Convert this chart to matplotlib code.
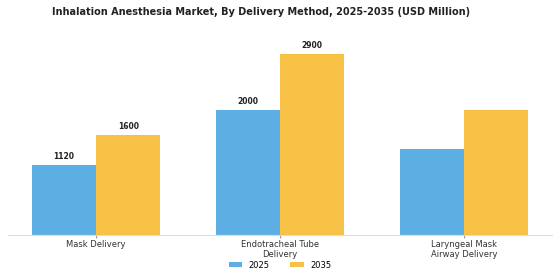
import matplotlib.pyplot as plt
import numpy as np

# data
categories = ["Mask Delivery", "Endotracheal Tube\nDelivery", "Laryngeal Mask\nAirway Delivery"]
values_2025 = [1120, 2000, 1380]
values_2035 = [1600, 2900, 2000]
labels_2025 = ["1120", "2000", ""]
labels_2035 = ["1600", "2900", ""]

blue = "#5DAFE3"
yellow = "#F6C144"

fig = plt.figure(figsize=(5.6, 2.8), dpi=100)
ax = fig.add_axes([0.014, 0.161, 0.972, 0.714])

x = np.arange(len(categories))
w = 0.35
b1 = ax.bar(x - w / 2, values_2025, w, color=blue, label="2025")
b2 = ax.bar(x + w / 2, values_2035, w, color=yellow, label="2035")

for bars, labs in [(b1, labels_2025), (b2, labels_2035)]:
    for bar, lab in zip(bars, labs):
        if lab:
            ax.text(bar.get_x() + bar.get_width() / 2, bar.get_height() + 60, lab,
                    ha="center", va="bottom", fontsize=5.5, fontweight="bold", color="#222222")

ax.set_xlim(-0.48, 2.48)
ax.set_ylim(0, 3200)
ax.set_xticks(x)
ax.set_xticklabels(categories, fontsize=6, color="#333333", linespacing=1.1)
ax.set_yticks([])
for s in ["top", "right", "left"]:
    ax.spines[s].set_visible(False)
ax.spines["bottom"].set_color("#dddddd")
ax.tick_params(axis="x", length=2, color="#999999", pad=2)

fig.suptitle("Inhalation Anesthesia Market, By Delivery Method, 2025-2035 (USD Million)",
             x=0.466, y=0.975, fontsize=7, fontweight="bold", color="#222222")

fig.legend(loc="lower center", bbox_to_anchor=(0.5, 0.01), ncol=2, frameon=False,
           fontsize=6, handlelength=1.6, handleheight=0.5, columnspacing=2.5)

fig.savefig("out.png", dpi=100)
